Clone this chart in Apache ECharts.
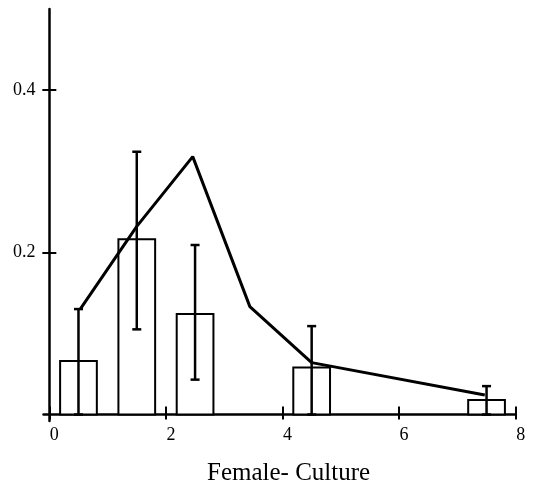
<!DOCTYPE html>
<html>
<head>
<meta charset="utf-8">
<script src="https://cdn.jsdelivr.net/npm/echarts@6/dist/echarts.min.js"></script>
<style>
  html, body { margin: 0; padding: 0; background: #fff; }
  #chart { width: 538px; height: 491px; }
</style>
</head>
<body>
<div id="chart"></div>
<script>
// histogram boxes
var binCenters = [0.5, 1.5, 2.5, 4.5, 7.5];
var binValues = [0.066, 0.216, 0.124, 0.058, 0.018];
var binWidth = 0.63;
// error bars
var errLow = [0.0, 0.105, 0.043, 0.0, 0.0];
var errHigh = [0.13, 0.324, 0.209, 0.109, 0.035];
// line
var lineX = [0.53, 1.5, 2.46, 3.44, 4.5, 7.47];
var lineY = [0.13, 0.232, 0.318, 0.133, 0.064, 0.024];
// ticks
var xTicks = [0, 2, 4, 6, 8];
var yTicks = [0.2, 0.4];

var font = '"Liberation Serif", "Times New Roman", serif';
var xMin = -0.1, xMax = 8, yMin = -0.008, yMax = 0.5;
var gridBox = { left: 43.5, right: 22.3, top: 9, bottom: 68 };
var W = 538, H = 491;

var chart = echarts.init(document.getElementById('chart'));

var barData = binCenters.map(function (c, i) { return [c, binValues[i]]; });
var errData = binCenters.map(function (c, i) { return [c, errLow[i], errHigh[i]]; });
var lineData = lineX.map(function (x, i) { return [x, lineY[i]]; });

// the tick-only axes sit on the zero lines, so ticks cross the axes
var gw = W - gridBox.left - gridBox.right;
var gh = H - gridBox.top - gridBox.bottom;
var yZeroShift = (0 - xMin) / (xMax - xMin) * gw;
var xZeroShift = (0 - yMin) / (yMax - yMin) * gh;

var axisLineStyle = { color: '#000', width: 2.5 };
var tickStyle = { color: '#000', width: 2 };

var option = {
    animation: false,
    backgroundColor: '#fff',
    grid: gridBox,
    xAxis: [{
        type: 'value',
        min: xMin,
        max: xMax,
        position: 'bottom',
        splitLine: { show: false },
        axisLine: { onZero: true, lineStyle: axisLineStyle },
        axisTick: { inside: true, length: 8, customValues: xTicks, lineStyle: tickStyle },
        axisLabel: {
            customValues: xTicks, color: '#000', fontFamily: font, fontSize: 18,
            margin: 5, padding: [0, 0, 0, 10]
        },
        name: 'Female- Culture',
        nameLocation: 'middle',
        nameGap: 40,
        nameTextStyle: { color: '#000', fontFamily: font, fontSize: 25, padding: [0, 0, 0, 18] }
    }, {
        type: 'value',
        min: xMin,
        max: xMax,
        position: 'bottom',
        offset: -xZeroShift,
        splitLine: { show: false },
        axisLine: { show: false, onZero: false },
        axisTick: { show: true, inside: false, length: 5, customValues: xTicks, lineStyle: tickStyle },
        axisLabel: { show: false }
    }],
    yAxis: [{
        type: 'value',
        min: yMin,
        max: yMax,
        position: 'left',
        splitLine: { show: false },
        axisLine: { onZero: true, lineStyle: axisLineStyle },
        axisTick: { inside: false, length: 7, customValues: yTicks, lineStyle: tickStyle },
        axisLabel: {
            customValues: yTicks, color: '#000', fontFamily: font, fontSize: 18,
            margin: 8
        }
    }, {
        type: 'value',
        min: yMin,
        max: yMax,
        position: 'left',
        offset: -yZeroShift,
        splitLine: { show: false },
        axisLine: { show: false, onZero: false },
        axisTick: { show: true, inside: true, length: 7, customValues: yTicks, lineStyle: tickStyle },
        axisLabel: { show: false }
    }],
    series: [{
        type: 'custom',
        name: 'bins',
        data: barData,
        encode: { x: 0, y: 1 },
        z: 2,
        renderItem: function (params, api) {
            var c = api.value(0);
            var p1 = api.coord([c - binWidth / 2, api.value(1)]);
            var p2 = api.coord([c + binWidth / 2, 0]);
            return {
                type: 'rect',
                shape: { x: p1[0], y: p1[1], width: p2[0] - p1[0], height: p2[1] - p1[1] },
                style: { fill: '#fff', stroke: '#000', lineWidth: 2 }
            };
        }
    }, {
        type: 'custom',
        name: 'errors',
        data: errData,
        encode: { x: 0, y: [1, 2] },
        z: 3,
        renderItem: function (params, api) {
            var lo = api.coord([api.value(0), api.value(1)]);
            var hi = api.coord([api.value(0), api.value(2)]);
            var cap = 4.5;
            var st = { stroke: '#000', lineWidth: 2.5 };
            return {
                type: 'group',
                children: [
                    { type: 'line', shape: { x1: lo[0], y1: lo[1], x2: hi[0], y2: hi[1] }, style: st },
                    { type: 'line', shape: { x1: hi[0] - cap, y1: hi[1], x2: hi[0] + cap, y2: hi[1] }, style: st },
                    { type: 'line', shape: { x1: lo[0] - cap, y1: lo[1], x2: lo[0] + cap, y2: lo[1] }, style: st }
                ]
            };
        }
    }, {
        type: 'line',
        name: 'fit',
        data: lineData,
        z: 4,
        symbol: 'none',
        lineStyle: { color: '#000', width: 3 }
    }]
};

chart.setOption(option);
</script>
</body>
</html>
